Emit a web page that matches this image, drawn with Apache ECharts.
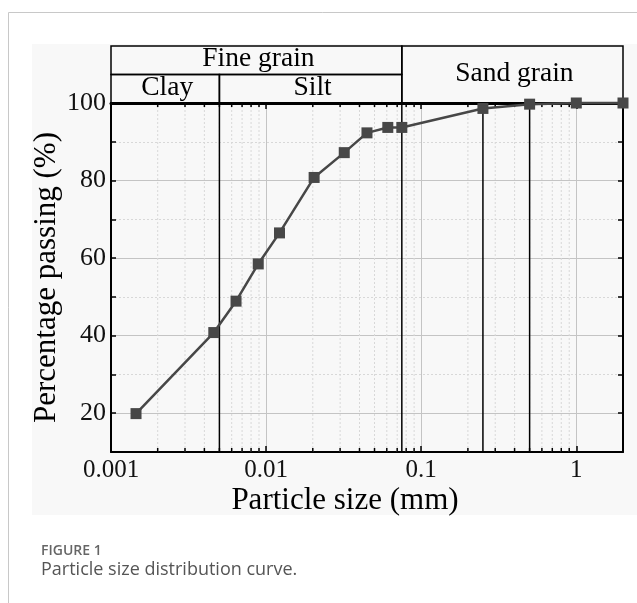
<!DOCTYPE html>
<html>
<head>
<meta charset="utf-8">
<title>Particle size distribution curve</title>
<script src="https://cdn.jsdelivr.net/npm/echarts@6/dist/echarts.min.js"></script>
<style>
  html, body { margin: 0; padding: 0; background: #ffffff; }
  #chart { width: 637px; height: 603px; }
</style>
</head>
<body>
<div id="chart"></div>
<script>
// Sieve / hydrometer results: particle diameter (mm) and cumulative percentage passing
const particleSize = [0.00145, 0.0046, 0.0064, 0.0089, 0.0122, 0.0204, 0.0319, 0.0447, 0.0609, 0.075, 0.25, 0.5, 1, 2];
const percentPassing = [19.9, 40.8, 48.9, 58.5, 66.5, 80.8, 87.2, 92.3, 93.7, 93.7, 98.6, 99.7, 100, 100];

// Grain-size class limits drawn as vertical lines (mm)
const classLimits = [0.005, 0.075, 0.25, 0.5];

// Header bands describing the soil classes
const bandNames = ['Fine grain', 'Clay', 'Silt', 'Sand grain'];
const bandFrom = [0.001, 0.001, 0.005, 0.075];
const bandTo = [0.075, 0.005, 0.075, 2];
const bandRowLow = [1, 0, 0, 0];
const bandRowHigh = [2, 1, 1, 2];

// Tick labels
const xTickLabels = [0.001, 0.01, 0.1, 1];
const yTickLabels = [20, 40, 60, 80, 100];

const X_MIN = 0.001, X_MAX = 2, Y_MIN = 10, Y_MAX = 100;
const SERIF = 'Liberation Serif, Times New Roman, serif';

// minor log positions (2..9 within each decade)
const minorValues = [];
xTickLabels.forEach(function (d) {
  for (let k = 2; k <= 9; k++) {
    const v = +(d * k).toPrecision(6);
    if (v < X_MAX) minorValues.push([v, Y_MIN]);
  }
});

function sameValue(a, b) { return Math.abs(a - b) <= Math.abs(b) * 1e-6; }

const chart = echarts.init(document.getElementById('chart'), null, { renderer: 'canvas' });

const headerData = bandNames.map(function (n, i) {
  return [bandFrom[i], bandTo[i], bandRowLow[i], bandRowHigh[i], n];
});

const option = {
  animation: false,
  backgroundColor: '#ffffff',
  graphic: [
    { type: 'rect', z: -100, silent: true, shape: { x: 32, y: 44, width: 605, height: 471 }, style: { fill: '#f8f8f8' } },
    { type: 'line', z: -90, silent: true, shape: { x1: 8.5, y1: 12.5, x2: 637, y2: 12.5 }, style: { stroke: '#c8c8c8', lineWidth: 1 } },
    { type: 'line', z: -90, silent: true, shape: { x1: 8.5, y1: 12.5, x2: 8.5, y2: 603 }, style: { stroke: '#c8c8c8', lineWidth: 1 } },
    { type: 'text', left: 41, top: 544, style: { text: 'FIGURE 1', fill: '#666666', font: '600 14px "Open Sans", "Noto Sans", sans-serif' } },
    { type: 'text', left: 41, top: 561, style: { text: 'Particle size distribution curve.', fill: '#555555', font: '400 18px "Open Sans", "Noto Sans", sans-serif' } }
  ],
  grid: [
    { left: 111, top: 103, width: 512, height: 349, containLabel: false },
    { left: 111, top: 46, width: 512, height: 57, containLabel: false }
  ],
  xAxis: [
    {
      type: 'log', logBase: 10, min: X_MIN, max: X_MAX, gridIndex: 0, position: 'bottom',
      axisLine: { show: true, onZero: false, lineStyle: { color: '#000', width: 2 } },
      axisTick: { show: true, inside: true, length: 6, lineStyle: { color: '#000', width: 1.5 } },
      axisLabel: {
        show: true, margin: 6, color: '#111', fontFamily: SERIF, fontSize: 25,
        formatter: function (v) {
          const t = xTickLabels.find(function (x) { return sameValue(v, x); });
          return t === undefined ? '' : String(t);
        }
      },
      splitLine: { show: true, lineStyle: { color: '#c4c4c4', width: 1 } },
      name: 'Particle size (mm)', nameLocation: 'middle', nameGap: 33, nameMoveOverlap: false,
      nameTextStyle: { color: '#000', fontFamily: SERIF, fontSize: 31, padding: [0, 44, 0, 0] }
    },
    {
      type: 'log', logBase: 10, min: X_MIN, max: X_MAX, gridIndex: 0, position: 'top',
      axisLine: { show: true, onZero: false, lineStyle: { color: '#000', width: 3 } },
      axisTick: { show: true, inside: true, length: 6, lineStyle: { color: '#000', width: 1.5 } },
      axisLabel: { show: false },
      splitLine: { show: false }
    },
    {
      type: 'log', logBase: 10, min: X_MIN, max: X_MAX, gridIndex: 1, show: false
    }
  ],
  yAxis: [
    {
      type: 'value', min: Y_MIN, max: Y_MAX, interval: 10, gridIndex: 0, position: 'left',
      axisLine: { show: true, onZero: false, lineStyle: { color: '#000', width: 2 } },
      axisTick: { show: true, inside: true, length: 5, lineStyle: { color: '#000', width: 1.5 } },
      axisLabel: {
        show: true, margin: 5, color: '#111', fontFamily: SERIF, fontSize: 26,
        formatter: function (v) { return yTickLabels.indexOf(v) >= 0 ? String(v) : ''; }
      },
      splitLine: { show: true, lineStyle: { color: ['rgba(0,0,0,0)', '#c4c4c4'], width: 1 } },
      name: 'Percentage passing (%)', nameLocation: 'middle', nameGap: 49, nameMoveOverlap: false,
      nameTextStyle: { color: '#000', fontFamily: SERIF, fontSize: 31 }
    },
    {
      type: 'value', min: Y_MIN, max: Y_MAX, interval: 10, gridIndex: 0, position: 'right',
      axisLine: { show: true, onZero: false, lineStyle: { color: '#000', width: 2 } },
      axisTick: { show: true, inside: true, length: 5, lineStyle: { color: '#000', width: 1.5 } },
      axisLabel: { show: false },
      splitLine: { show: true, lineStyle: { color: ['#d8d8d8', 'rgba(0,0,0,0)'], width: 1, type: [2, 2] } }
    },
    {
      type: 'value', min: 0, max: 2, gridIndex: 1, show: false
    }
  ],
  series: [
    {
      // minor log grid lines and minor ticks on the bottom/top edges
      type: 'custom', name: 'minor', xAxisIndex: 0, yAxisIndex: 0, silent: true, z: 1,
      data: minorValues,
      renderItem: function (params, api) {
        const v = api.value(0);
        const b = api.coord([v, Y_MIN]);
        const t = api.coord([v, Y_MAX]);
        return {
          type: 'group',
          children: [
            { type: 'line', shape: { x1: b[0], y1: b[1], x2: t[0], y2: t[1] }, style: { stroke: '#d8d8d8', lineWidth: 1, lineDash: [2, 2] } },
            { type: 'line', shape: { x1: b[0], y1: b[1], x2: b[0], y2: b[1] - 4 }, style: { stroke: '#000', lineWidth: 1.5 } },
            { type: 'line', shape: { x1: t[0], y1: t[1], x2: t[0], y2: t[1] + 4 }, style: { stroke: '#000', lineWidth: 1.5 } }
          ]
        };
      }
    },
    {
      // vertical lines at the grain-size class limits
      type: 'custom', name: 'limits', xAxisIndex: 0, yAxisIndex: 0, silent: true, z: 2,
      data: classLimits.map(function (v) { return [v, Y_MIN]; }),
      renderItem: function (params, api) {
        const v = api.value(0);
        const b = api.coord([v, Y_MIN]);
        const t = api.coord([v, Y_MAX]);
        return { type: 'line', shape: { x1: b[0], y1: b[1], x2: t[0], y2: t[1] }, style: { stroke: '#000', lineWidth: 1.5 } };
      }
    },
    {
      // soil class header bands
      type: 'custom', name: 'classes', xAxisIndex: 2, yAxisIndex: 2, silent: true, z: 3,
      data: headerData,
      renderItem: function (params, api) {
        const p0 = api.coord([api.value(0), api.value(2)]);
        const p1 = api.coord([api.value(1), api.value(3)]);
        const x = Math.min(p0[0], p1[0]), y = Math.min(p0[1], p1[1]);
        const w = Math.abs(p1[0] - p0[0]), h = Math.abs(p1[1] - p0[1]);
        return {
          type: 'group',
          children: [
            { type: 'rect', shape: { x: x, y: y, width: w, height: h }, style: { fill: 'none', stroke: '#000', lineWidth: 1.5 } },
            {
              type: 'text',
              style: {
                text: bandNames[params.dataIndex], x: x + w / 2 + 2, y: y + h / 2 - 1,
                align: 'center', verticalAlign: 'middle', fill: '#000',
                font: '27.5px ' + SERIF
              }
            }
          ]
        };
      }
    },
    {
      type: 'line', name: 'Percentage passing', xAxisIndex: 0, yAxisIndex: 0, z: 5, clip: false,
      data: particleSize.map(function (s, i) { return [s, percentPassing[i]]; }),
      symbol: 'rect', symbolSize: 11,
      lineStyle: { color: '#474747', width: 2.5 },
      itemStyle: { color: '#474747' }
    }
  ]
};

chart.setOption(option);
</script>
</body>
</html>
